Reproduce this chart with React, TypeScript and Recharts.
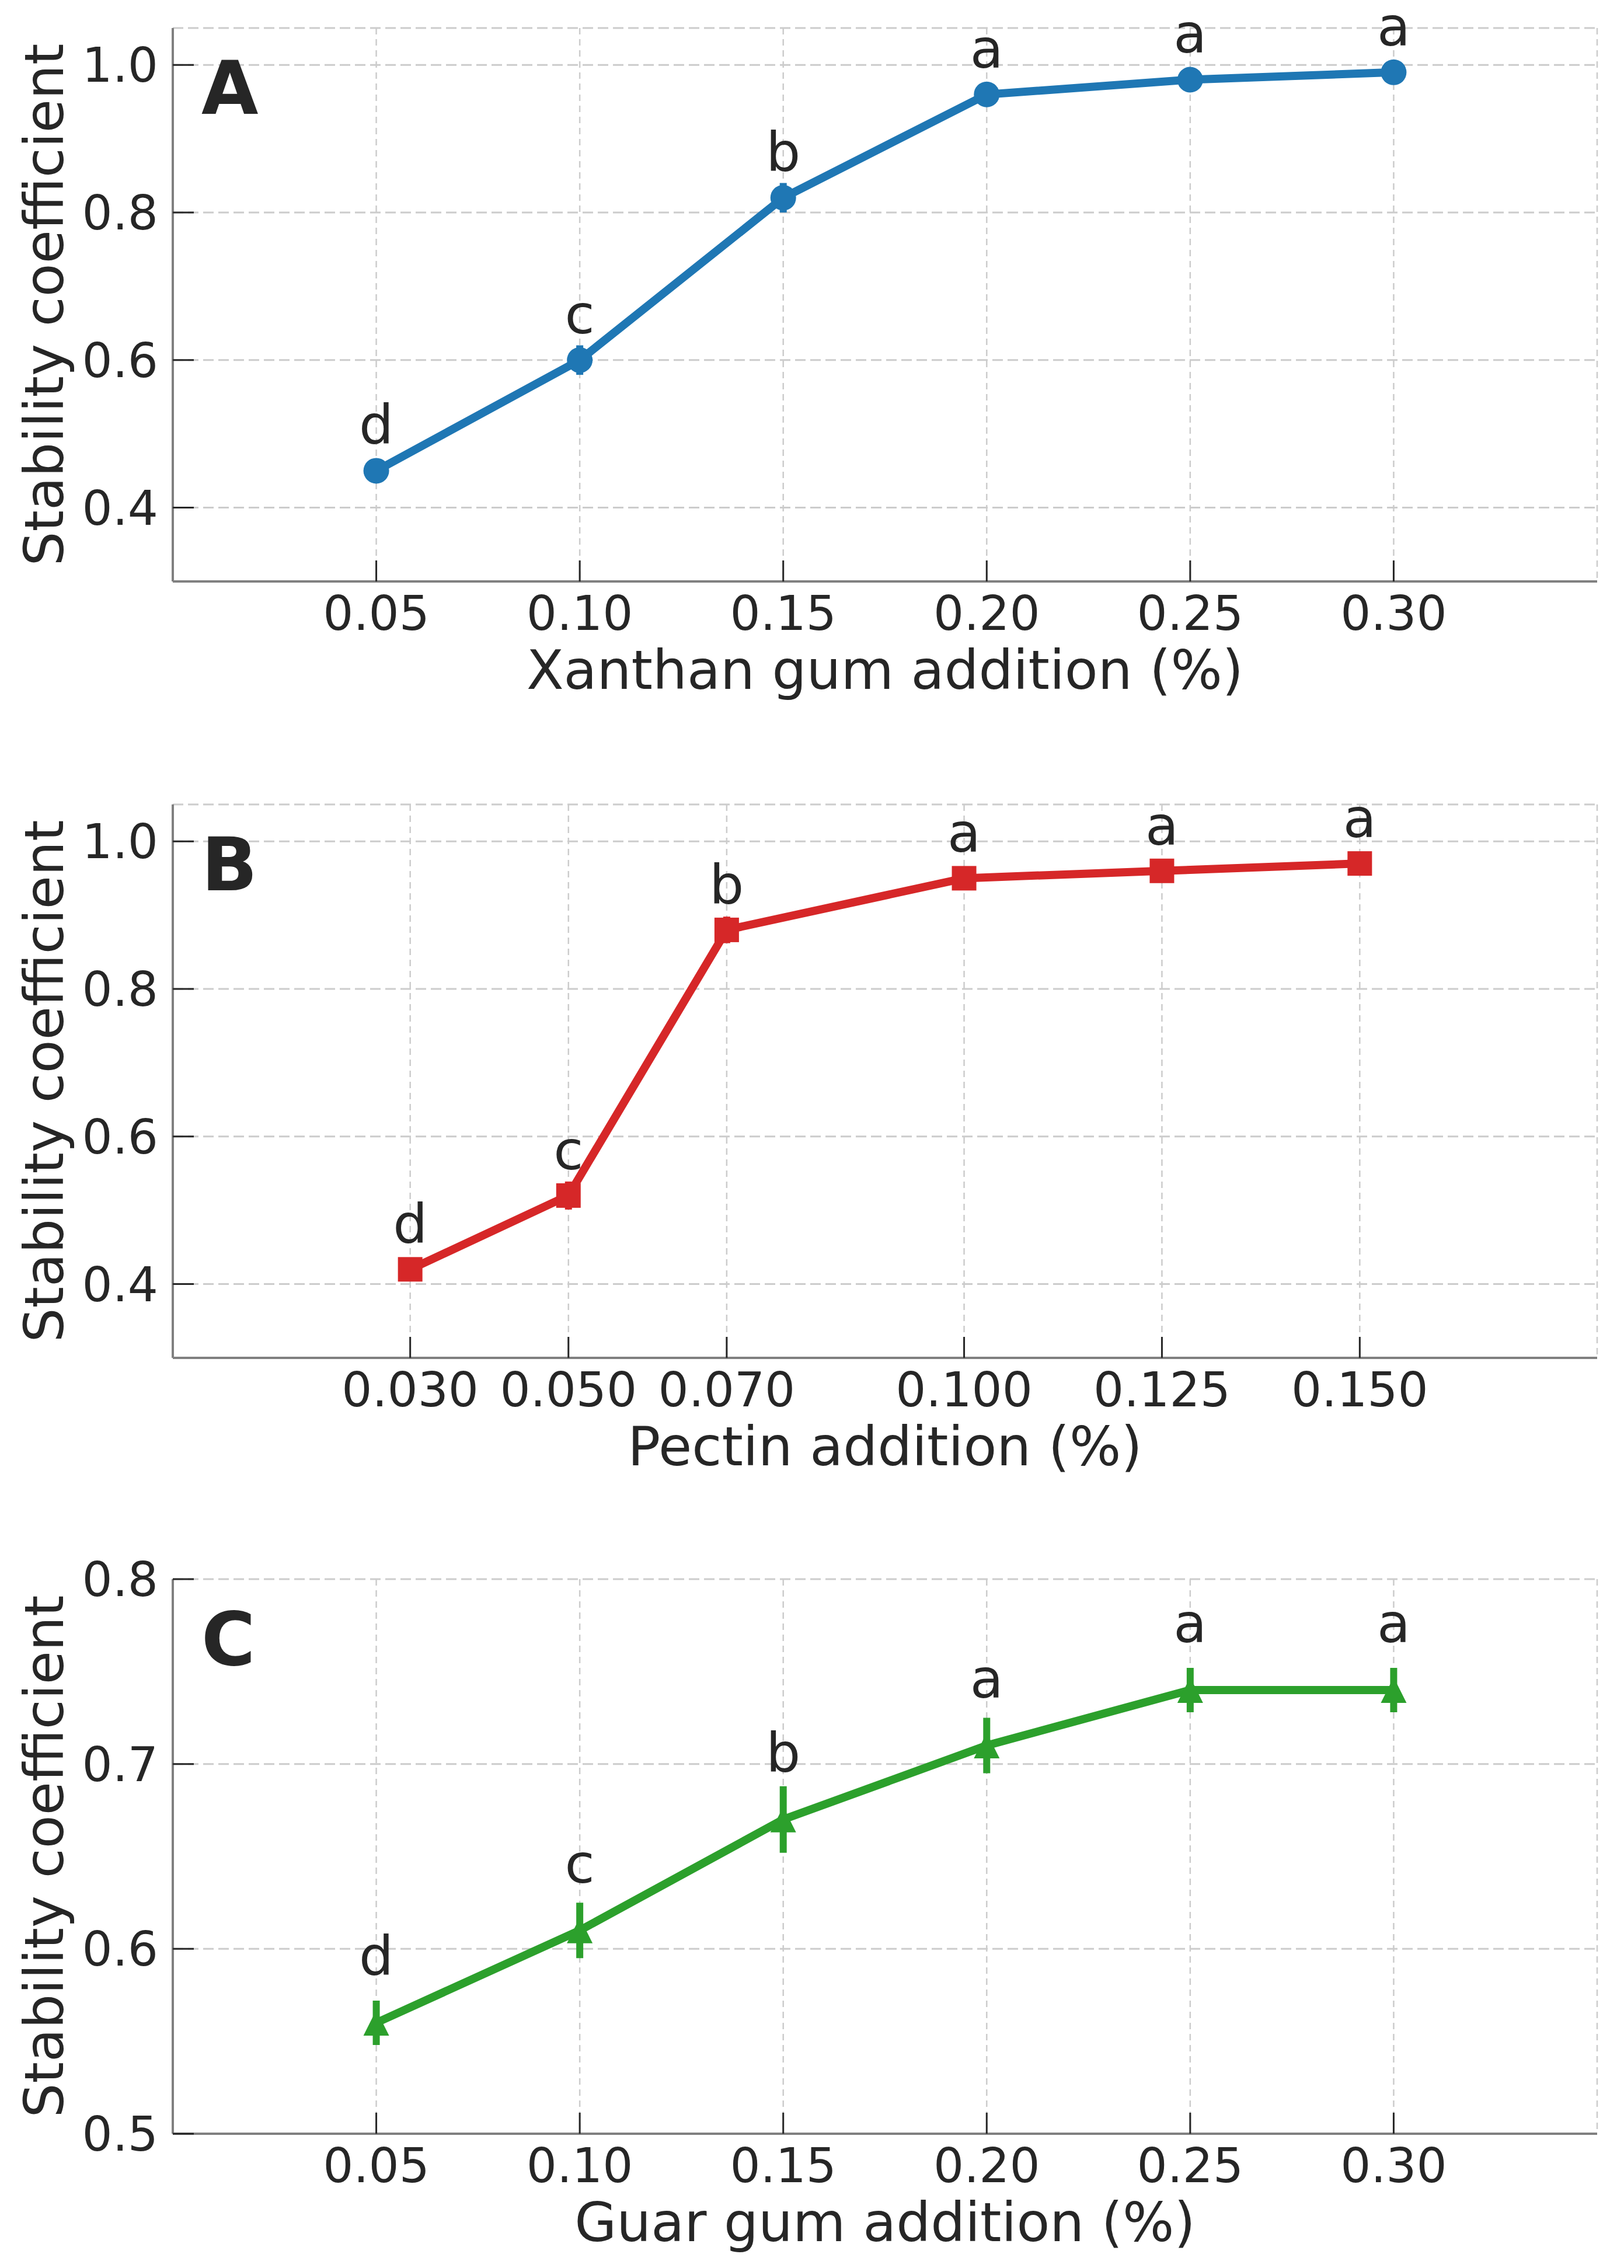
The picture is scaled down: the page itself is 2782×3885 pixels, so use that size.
import React from 'react';
import { LineChart, Line, XAxis, YAxis, CartesianGrid, ErrorBar, LabelList, Label } from 'recharts';

const letters = ['d', 'c', 'b', 'a', 'a', 'a'];

const xanthanX = [0.05, 0.1, 0.15, 0.2, 0.25, 0.3];
const xanthanY = [0.45, 0.6, 0.82, 0.96, 0.98, 0.99];
const xanthanErr = [0.01, 0.02, 0.02, 0.01, 0.01, 0.008];

const pectinX = [0.03, 0.05, 0.07, 0.1, 0.125, 0.15];
const pectinY = [0.42, 0.52, 0.88, 0.95, 0.96, 0.97];
const pectinErr = [0.01, 0.019, 0.018, 0.01, 0.01, 0.01];

const guarX = [0.05, 0.1, 0.15, 0.2, 0.25, 0.3];
const guarY = [0.56, 0.61, 0.67, 0.71, 0.74, 0.74];
const guarErr = [0.012, 0.015, 0.018, 0.015, 0.012, 0.012];

const gumTicks = [0.05, 0.1, 0.15, 0.2, 0.25, 0.3];
const pectinTicks = [0.03, 0.05, 0.07, 0.1, 0.125, 0.15];
const abTicksY = [0.4, 0.6, 0.8, 1.0];
const cTicksY = [0.5, 0.6, 0.7, 0.8];

const FONT = 'DejaVu Sans';
const TEXT = '#262626';
const FRAME = '#808080';
const W = 2782;

const rows = (xs: number[], ys: number[], errs: number[]) =>
  xs.map((x, i) => ({ x, y: ys[i], err: errs[i], letter: letters[i] }));

const circleDot = (color: string) => (p: any) => (
  <circle key={`d-${p.index}`} cx={p.cx} cy={p.cy} r={22} fill={color} />
);
const squareDot = (color: string) => (p: any) => (
  <rect key={`d-${p.index}`} x={p.cx - 21} y={p.cy - 21} width={42} height={42} fill={color} />
);
const triangleDot = (color: string) => (p: any) => (
  <polygon
    key={`d-${p.index}`}
    points={`${p.cx},${p.cy - 22} ${p.cx - 22},${p.cy + 22} ${p.cx + 22},${p.cy + 22}`}
    fill={color}
  />
);

interface PanelProps {
  top: number;
  height: number;
  marginTop: number;
  xAxisHeight: number;
  data: { x: number; y: number; err: number; letter: string }[];
  xDomain: [number, number];
  yDomain: [number, number];
  xTicks: number[];
  yTicks: number[];
  xDigits: number;
  xLabel: string;
  panel: string;
  color: string;
  dot: any;
  letterGap: number;
}

const Panel = (p: PanelProps) => {
  const letterLabel = (props: any) => {
    const vb = props.viewBox || {};
    const x = vb.x ?? props.x;
    const y = vb.y ?? props.y;
    return (
      <text x={x} y={y - p.letterGap} textAnchor="middle" fontSize={93} fontFamily={FONT} fill={TEXT}>
        {props.value}
      </text>
    );
  };
  const yLabel = (props: any) => {
    const vb = props.viewBox;
    const cy = vb.y + vb.height / 2;
    const lx = vb.x + 108;
    return (
      <g>
        <text
          x={lx}
          y={cy}
          transform={`rotate(-90, ${lx}, ${cy})`}
          textAnchor="middle"
          fontSize={93}
          fontFamily={FONT}
          fill={TEXT}
        >
          Stability coefficient
        </text>
        <text x={vb.x + vb.width + 49} y={vb.y + 147} fontSize={126} fontWeight="bold" fontFamily={FONT} fill={TEXT}>
          {p.panel}
        </text>
      </g>
    );
  };
  const xLabel = (props: any) => {
    const vb = props.viewBox;
    return (
      <text x={vb.x + vb.width / 2} y={vb.y + 184} textAnchor="middle" fontSize={93} fontFamily={FONT} fill={TEXT}>
        {p.xLabel}
      </text>
    );
  };
  const tickStyle = { fontSize: 82, fill: TEXT, fontFamily: FONT };
  const tickLine = { stroke: TEXT, strokeWidth: 3 };
  const frame = { stroke: FRAME, strokeWidth: 4 };
  return (
    <div style={{ position: 'absolute', left: 0, top: p.top }}>
      <LineChart width={W} height={p.height} data={p.data} margin={{ top: p.marginTop, right: 46, bottom: 0, left: 0 }}>
        <CartesianGrid vertical={false} stroke="#cccccc" strokeWidth={3} strokeDasharray="18 8" />
        <CartesianGrid horizontal={false} stroke="#cccccc" strokeWidth={2.5} strokeDasharray="11 8" />
        <XAxis
          dataKey="x"
          type="number"
          domain={p.xDomain}
          allowDataOverflow
          ticks={p.xTicks}
          tickFormatter={(v: number) => v.toFixed(p.xDigits)}
          height={p.xAxisHeight}
          tick={tickStyle}
          tickLine={tickLine}
          tickSize={-36}
          tickMargin={61}
          axisLine={frame}
        >
          <Label content={xLabel} />
        </XAxis>
        <XAxis
          xAxisId="top"
          orientation="top"
          type="number"
          domain={p.xDomain}
          allowDataOverflow
          height={0}
          tick={false}
          tickLine={false}
          axisLine={frame}
        />
        <YAxis
          type="number"
          domain={p.yDomain}
          allowDataOverflow
          ticks={p.yTicks}
          tickFormatter={(v: number) => v.toFixed(1)}
          width={296}
          tick={tickStyle}
          tickLine={tickLine}
          tickSize={-36}
          tickMargin={61}
          axisLine={frame}
        >
          <Label content={yLabel} />
        </YAxis>
        <YAxis
          yAxisId="right"
          orientation="right"
          type="number"
          domain={p.yDomain}
          allowDataOverflow
          width={0}
          tick={false}
          tickLine={false}
          axisLine={frame}
        />
        <Line
          dataKey="y"
          stroke={p.color}
          strokeWidth={14}
          dot={p.dot}
          activeDot={false}
          isAnimationActive={false}
        >
          <ErrorBar dataKey="err" width={0} strokeWidth={12} stroke={p.color} direction="y" isAnimationActive={false} />
          <LabelList dataKey="letter" content={letterLabel} />
        </Line>
      </LineChart>
    </div>
  );
};

export default function App() {
  const blue = '#1f77b4';
  const red = '#d62728';
  const green = '#2ca02c';
  return (
    <div style={{ position: 'absolute', left: 0, top: 0, width: W, height: 3885, background: '#ffffff' }}>
      <Panel
        top={0}
        height={1300}
        marginTop={48}
        xAxisHeight={304}
        data={rows(xanthanX, xanthanY, xanthanErr)}
        xDomain={[0, 0.35]}
        yDomain={[0.3, 1.05]}
        xTicks={gumTicks}
        yTicks={abTicksY}
        xDigits={2}
        xLabel="Xanthan gum addition (%)"
        panel="A"
        color={blue}
        dot={circleDot(blue)}
        letterGap={46}
      />
      <Panel
        top={1300}
        height={1320}
        marginTop={78}
        xAxisHeight={294}
        data={rows(pectinX, pectinY, pectinErr)}
        xDomain={[0, 0.18]}
        yDomain={[0.3, 1.05]}
        xTicks={pectinTicks}
        yTicks={abTicksY}
        xDigits={3}
        xLabel="Pectin addition (%)"
        panel="B"
        color={red}
        dot={squareDot(red)}
        letterGap={45}
      />
      <Panel
        top={2620}
        height={1265}
        marginTop={85}
        xAxisHeight={230}
        data={rows(guarX, guarY, guarErr)}
        xDomain={[0, 0.35]}
        yDomain={[0.5, 0.8]}
        xTicks={gumTicks}
        yTicks={cTicksY}
        xDigits={2}
        xLabel="Guar gum addition (%)"
        panel="C"
        color={green}
        dot={triangleDot(green)}
        letterGap={82}
      />
    </div>
  );
}
